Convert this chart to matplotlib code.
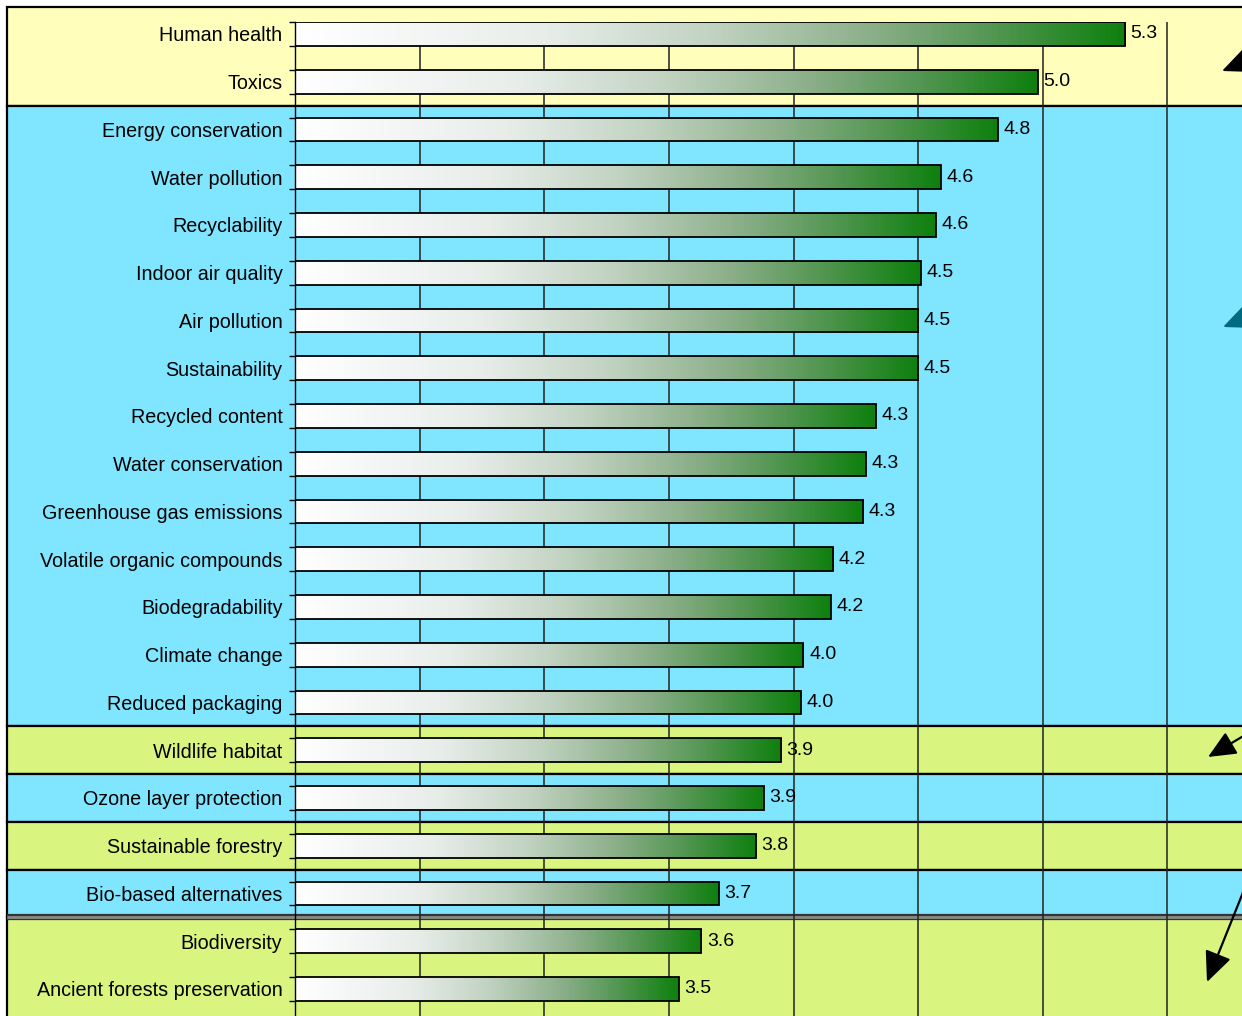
import numpy as np
import matplotlib
matplotlib.use('Agg')
import matplotlib.pyplot as plt
from matplotlib.colors import LinearSegmentedColormap
from matplotlib.patches import Rectangle
from matplotlib.transforms import blended_transform_factory

categories = ['Human health', 'Toxics', 'Energy conservation', 'Water pollution',
              'Recyclability', 'Indoor air quality', 'Air pollution', 'Sustainability',
              'Recycled content', 'Water conservation', 'Greenhouse gas emissions',
              'Volatile organic compounds', 'Biodegradability', 'Climate change',
              'Reduced packaging', 'Wildlife habitat', 'Ozone layer protection',
              'Sustainable forestry', 'Bio-based alternatives', 'Biodiversity',
              'Ancient forests preservation']
scores = [5.33, 4.98, 4.82, 4.59, 4.57, 4.51, 4.50, 4.50, 4.33, 4.29, 4.28,
          4.16, 4.15, 4.04, 4.03, 3.95, 3.88, 3.85, 3.70, 3.63, 3.54]
score_labels = ['5.3', '5.0', '4.8', '4.6', '4.6', '4.5', '4.5', '4.5', '4.3', '4.3', '4.3',
                '4.2', '4.2', '4.0', '4.0', '3.9', '3.9', '3.8', '3.7', '3.6', '3.5']

# background groups: first row, last row, colour
band_first = [0, 2, 15, 16, 17, 18, 19]
band_last = [1, 14, 15, 16, 17, 18, 20]
band_colors = ['#FFFFBB', '#80E6FF', '#D9F47F', '#80E6FF', '#D9F47F', '#80E6FF', '#D9F47F']

W, H = 1242, 1016
row_px = 47.75
ax_top_px = 22
ax_bot_px = ax_top_px + row_px * 21.25

fig = plt.figure(figsize=(W / 100, H / 100), dpi=100)
ax = fig.add_axes([295 / W, 1 - ax_bot_px / H, (1292 - 295) / W, (ax_bot_px - ax_top_px) / H])
ax.patch.set_visible(False)

font = ['Liberation Sans', 'DejaVu Sans']

# background bands, spanning past the axes on both sides
trans = blended_transform_factory(fig.transFigure, ax.transData)
left_edge = 7 / W
top_y = -0.25 - 15 / row_px
for first, last, col in zip(band_first, band_last, band_colors):
    y0 = first - 0.5 if first > 0 else top_y
    y1 = last + 0.5 if last < len(categories) - 1 else last + 1.5
    ax.add_patch(Rectangle((left_edge, y0), 1.2, y1 - y0, transform=trans,
                           facecolor=col, edgecolor='black', lw=1.6,
                           clip_on=False, zorder=0))
# double separator above the last group
ax.plot([left_edge, 1.2], [18.5, 18.5], transform=trans, color='#333333', lw=4.5,
        clip_on=False, zorder=0.3, solid_capstyle='butt')
ax.plot([left_edge, 1.2], [18.5, 18.5], transform=trans, color='#8a8a8a', lw=2,
        clip_on=False, zorder=0.35, solid_capstyle='butt')

cmap = LinearSegmentedColormap.from_list('wg', [
    (0.0, '#FFFFFF'), (0.3, '#E8EDEA'), (0.5, '#C2D3C2'), (0.7, '#8AAE88'),
    (0.85, '#50954F'), (1.0, '#0E800E')])
grad = np.linspace(0, 1, 256).reshape(1, -1)

y = np.arange(len(categories))
for i, (v, lab) in enumerate(zip(scores, score_labels)):
    ax.imshow(grad, extent=(2, v, i + 0.25, i - 0.25), cmap=cmap, aspect='auto',
              interpolation='bilinear', zorder=2)
    ax.annotate(lab, xy=(v, i), xytext=(4, 0), textcoords='offset points',
                va='center', ha='left', fontsize=14, family=font, zorder=4)
ax.barh(y, np.array(scores) - 2, left=2, height=0.5, fill=False,
        edgecolor='black', lw=1.3, zorder=3)

ax.set_xlim(2, 6)
ax.set_ylim(21, -0.25)
ax.set_xticks(np.arange(2.5, 6.0, 0.5))
ax.tick_params(axis='x', length=0, labelbottom=False)
ax.grid(axis='x', color='#222222', lw=1.1)
ax.set_axisbelow(True)
ax.set_yticks(y)
ax.set_yticklabels(categories, family=font, fontsize=14.2)
ax.tick_params(axis='y', which='major', length=0, pad=9)
ax.set_yticks(np.concatenate([y - 0.25, y + 0.25]), minor=True)
ax.tick_params(axis='y', which='minor', length=4, width=1, color='black')
for s in ['top', 'right', 'bottom']:
    ax.spines[s].set_visible(False)
ax.spines['left'].set_color('black')
ax.spines['left'].set_linewidth(1)

# arrows pointing in from the right margin (cut off at the edge)
arrow_tips = [(1222, 71), (1223, 327), (1208, 757), (1207, 982)]
arrow_tails = [(1322, 30), (1323, 286), (1262, 725), (1248, 880)]
arrow_cols = ['black', '#006A80', 'black', 'black']
arrow_sizes = [30, 30, 20, 22]
for tip, tail, col, ms in zip(arrow_tips, arrow_tails, arrow_cols, arrow_sizes):
    ax.annotate('', xy=(tip[0], H - tip[1]), xytext=(tail[0], H - tail[1]),
                xycoords='figure pixels', textcoords='figure pixels',
                arrowprops=dict(arrowstyle='-|>,head_length=0.85,head_width=0.38',
                                mutation_scale=ms, color=col, lw=1.6,
                                shrinkA=0, shrinkB=0),
                annotation_clip=False, zorder=5)

fig.savefig('out.png', dpi=100)
